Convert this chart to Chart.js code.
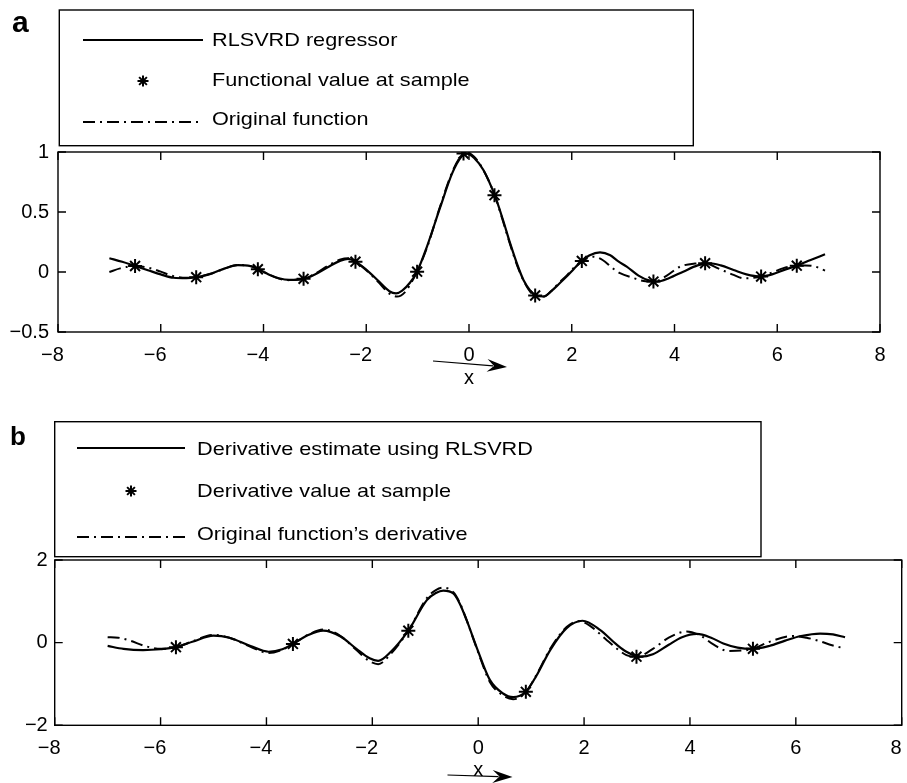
<!DOCTYPE html>
<html><head><meta charset="utf-8">
<script src="https://cdn.jsdelivr.net/npm/chart.js@4.4.1/dist/chart.umd.min.js"></script>
<style>
html,body{margin:0;padding:0;background:#fff;width:907px;height:783px;overflow:hidden}
canvas{position:absolute;left:0}
#ca{top:0}
#cb{top:395px}
</style></head><body>
<canvas id="ca" width="907" height="395"></canvas>
<canvas id="cb" width="907" height="388"></canvas>
<script>
// ---------- data ----------
const xTicks = [-8, -6, -4, -2, 0, 2, 4, 6, 8];
const yTicksA = [-0.5, 0, 0.5, 1];
const yTicksB = [-2, 0, 2];

const labelsA = ['RLSVRD regressor', 'Functional value at sample', 'Original function'];
const labelsB = ['Derivative estimate using RLSVRD', 'Derivative value at sample', 'Original function\u2019s derivative'];

// panel a: regressor (solid)
const regA_x = [-7.0,-6.75,-6.5,-6.25,-6.0,-5.75,-5.5,-5.31,-5.0,-4.75,-4.5,-4.25,-4.1,-3.9,-3.7,-3.5,-3.22,-3.0,-2.75,-2.5,-2.35,-2.21,-2.0,-1.75,-1.55,-1.42,-1.3,-1.15,-1.01,-0.82,-0.56,-0.33,-0.15,-0.04,0.1,0.28,0.5,0.65,0.8,0.95,1.06,1.2,1.3,1.45,1.6,1.75,1.9,2.05,2.2,2.35,2.55,2.75,2.9,3.07,3.3,3.5,3.66,3.9,4.17,4.45,4.69,4.9,5.15,5.4,5.67,5.9,6.15,6.38,6.65,6.93];
const regA_y = [0.115,0.085,0.05,0.015,-0.02,-0.048,-0.052,-0.043,-0.01,0.03,0.057,0.048,0.023,-0.02,-0.052,-0.066,-0.057,-0.02,0.04,0.095,0.109,0.086,0.02,-0.08,-0.16,-0.178,-0.155,-0.09,0.003,0.21,0.54,0.82,0.96,0.987,0.95,0.85,0.64,0.45,0.24,0.05,-0.066,-0.16,-0.196,-0.204,-0.16,-0.1,-0.038,0.03,0.092,0.14,0.164,0.14,0.09,0.045,-0.03,-0.07,-0.08,-0.05,0.003,0.055,0.073,0.055,0.017,-0.02,-0.038,-0.02,0.02,0.053,0.1,0.148];
// panel a: samples (stars)
const sampA_x = [-6.5,-5.31,-4.11,-3.22,-2.21,-1.01,-0.107,0.496,1.288,2.196,3.59,4.596,5.686,6.38];
const sampA_y = [0.05,-0.043,0.023,-0.057,0.086,0.003,0.987,0.64,-0.196,0.092,-0.08,0.073,-0.038,0.053];
// panel a: original function (dash-dot)
const origA_x = [-7.0,-6.79,-6.5,-6.24,-6.0,-5.75,-5.5,-5.31,-5.0,-4.75,-4.5,-4.25,-4.1,-3.9,-3.7,-3.5,-3.22,-3.0,-2.75,-2.5,-2.35,-2.21,-2.0,-1.75,-1.55,-1.4,-1.25,-1.1,-1.01,-0.82,-0.56,-0.33,-0.15,-0.04,0.1,0.28,0.5,0.65,0.8,0.95,1.06,1.2,1.3,1.45,1.6,1.75,1.9,2.05,2.2,2.42,2.6,2.8,2.94,3.2,3.4,3.6,3.85,4.11,4.4,4.6,4.85,5.15,5.34,5.5,5.69,5.9,6.12,6.38,6.55,6.7,6.93];
const origA_y = [0.0,0.03,0.05,0.036,0.003,-0.035,-0.048,-0.043,-0.012,0.03,0.058,0.05,0.023,-0.02,-0.055,-0.068,-0.057,-0.015,0.05,0.105,0.115,0.086,0.015,-0.09,-0.18,-0.205,-0.17,-0.07,0.003,0.2,0.55,0.83,0.97,0.995,0.96,0.85,0.64,0.44,0.23,0.04,-0.07,-0.17,-0.2,-0.205,-0.16,-0.09,-0.03,0.04,0.092,0.128,0.1,0.03,-0.01,-0.05,-0.075,-0.08,-0.03,0.045,0.07,0.073,0.03,-0.024,-0.052,-0.05,-0.038,-0.005,0.032,0.053,0.055,0.05,0.012];

// panel b: derivative estimate (solid)
const regB_x = [-7.0,-6.7,-6.33,-6.0,-5.71,-5.4,-5.0,-4.7,-4.3,-3.96,-3.7,-3.5,-3.2,-2.93,-2.6,-2.3,-2.05,-1.89,-1.65,-1.32,-0.97,-0.8,-0.66,-0.47,-0.35,-0.22,-0.01,0.22,0.47,0.66,0.9,1.1,1.36,1.67,1.97,2.3,2.6,2.8,3.06,3.3,3.6,3.85,4.13,4.4,4.63,4.9,5.19,5.5,5.8,6.1,6.46,6.7,6.93];
const regB_y = [-0.08,-0.15,-0.18,-0.16,-0.11,0.02,0.17,0.12,-0.08,-0.22,-0.16,-0.03,0.19,0.29,0.15,-0.15,-0.38,-0.44,-0.22,0.29,1.03,1.2,1.26,1.19,0.95,0.55,-0.18,-0.9,-1.23,-1.32,-1.19,-0.8,-0.18,0.35,0.53,0.31,-0.03,-0.22,-0.34,-0.28,-0.05,0.13,0.21,0.12,-0.02,-0.12,-0.15,-0.08,0.05,0.16,0.22,0.2,0.13];
// panel b: derivative samples (stars)
const sampB_x = [-5.71,-3.5,-1.32,0.9,2.99,5.19];
const sampB_y = [-0.11,-0.03,0.29,-1.19,-0.34,-0.15];
// panel b: original derivative (dash-dot)
const origB_x = [-7.0,-6.8,-6.58,-6.3,-6.0,-5.71,-5.4,-5.0,-4.7,-4.3,-3.96,-3.7,-3.5,-3.2,-2.93,-2.6,-2.3,-2.05,-1.89,-1.65,-1.32,-0.97,-0.8,-0.66,-0.47,-0.35,-0.22,-0.01,0.22,0.47,0.66,0.9,1.1,1.36,1.67,1.9,2.1,2.43,2.8,3.0,3.3,3.6,3.94,4.2,4.45,4.72,5.0,5.19,5.5,5.95,6.2,6.39,6.7,6.93];
const origB_y = [0.13,0.12,0.05,-0.08,-0.15,-0.11,0.03,0.19,0.12,-0.1,-0.25,-0.17,-0.03,0.2,0.32,0.16,-0.18,-0.45,-0.52,-0.27,0.29,1.08,1.27,1.33,1.22,0.97,0.55,-0.2,-0.95,-1.28,-1.37,-1.19,-0.78,-0.15,0.38,0.52,0.42,0.06,-0.3,-0.34,-0.15,0.12,0.27,0.17,-0.05,-0.2,-0.19,-0.15,0.02,0.16,0.12,0.06,-0.07,-0.14];

// ---------- helpers ----------
const FONT = "'Liberation Sans', Arial, Helvetica, sans-serif";
const MINUS = '\u2212';
const FIG = '\u2007';
const pts = (xs, ys) => xs.map((x, i) => ({ x, y: ys[i] }));
const fmtY = v => v < 0 ? MINUS + String(Math.abs(v)) : String(v);
const fmtX = v => v < 0 ? MINUS + String(Math.abs(v)) + FIG : String(v);
const DASHDOT = [12, 5, 2, 5];

function drawStar(ctx, x, y, r) {
  ctx.beginPath();
  ctx.moveTo(x - r, y); ctx.lineTo(x + r, y);
  ctx.moveTo(x, y - r); ctx.lineTo(x, y + r);
  const d = r * Math.SQRT1_2;
  ctx.moveTo(x - d, y - d); ctx.lineTo(x + d, y + d);
  ctx.moveTo(x - d, y + d); ctx.lineTo(x + d, y - d);
  ctx.stroke();
}

const framePlugin = {
  id: 'frame',
  beforeDatasetsDraw(chart) {
    const { ctx, chartArea: a, scales: { x, y } } = chart;
    ctx.save();
    ctx.strokeStyle = '#000'; ctx.lineWidth = 1.4;
    ctx.strokeRect(a.left, a.top, a.right - a.left, a.bottom - a.top);
    const L = 8;
    ctx.beginPath();
    x.ticks.forEach(t => {
      const p = x.getPixelForValue(t.value);
      ctx.moveTo(p, a.bottom); ctx.lineTo(p, a.bottom - L);
      ctx.moveTo(p, a.top); ctx.lineTo(p, a.top + L);
    });
    y.ticks.forEach(t => {
      const p = y.getPixelForValue(t.value);
      ctx.moveTo(a.left, p); ctx.lineTo(a.left + L, p);
      ctx.moveTo(a.right, p); ctx.lineTo(a.right - L, p);
    });
    ctx.stroke();
    ctx.restore();
  }
};

const legendPlugin = {
  id: 'mlegend',
  afterDraw(chart, args, o) {
    const ctx = chart.ctx;
    ctx.save();
    ctx.fillStyle = '#fff';
    ctx.fillRect(o.box[0], o.box[1], o.box[2] - o.box[0], o.box[3] - o.box[1]);
    ctx.strokeStyle = '#000'; ctx.lineWidth = 1.4;
    ctx.strokeRect(o.box[0], o.box[1], o.box[2] - o.box[0], o.box[3] - o.box[1]);
    ctx.font = o.fontSize + 'px ' + FONT;
    ctx.fillStyle = '#000';
    ctx.textBaseline = 'alphabetic';
    ctx.textAlign = 'left';
    chart.data.datasets.forEach((ds, i) => {
      const ry = o.rowY[i];
      ctx.lineWidth = 2;
      if (ds.showLine) {
        ctx.setLineDash(ds.borderDash || []);
        ctx.beginPath(); ctx.moveTo(o.sx0, ry); ctx.lineTo(o.sx1, ry); ctx.stroke();
        ctx.setLineDash([]);
      } else {
        ctx.lineWidth = 2;
        drawStar(ctx, (o.sx0 + o.sx1) / 2, ry, 5.5);
      }
      ctx.save();
      ctx.translate(o.tx, o.textBase[i]);
      ctx.scale(o.stretch, 1);
      ctx.fillText(ds.label, 0, 0);
      ctx.restore();
    });
    // panel letter
    ctx.font = 'bold ' + o.letterSize + 'px ' + FONT;
    ctx.fillText(o.letter, o.letterX, o.letterY);
    ctx.restore();
  }
};

const arrowPlugin = {
  id: 'xarrow',
  afterDraw(chart, args, o) {
    const ctx = chart.ctx;
    const x0 = chart.scales.x.getPixelForValue(0);
    const x1 = x0 + o.dx1, y1 = o.y1, x2 = x0 + o.dx2, y2 = o.y2;
    const ang = Math.atan2(y2 - y1, x2 - x1);
    const hl = 20, hw = 6.5;
    ctx.save();
    ctx.strokeStyle = '#000'; ctx.fillStyle = '#000'; ctx.lineWidth = 1.2;
    ctx.beginPath(); ctx.moveTo(x1, y1);
    ctx.lineTo(x2 - Math.cos(ang) * hl * 0.7, y2 - Math.sin(ang) * hl * 0.7);
    ctx.stroke();
    ctx.translate(x2, y2); ctx.rotate(ang);
    ctx.beginPath(); ctx.moveTo(0, 0); ctx.lineTo(-hl, -hw); ctx.lineTo(-hl * 0.65, 0); ctx.lineTo(-hl, hw); ctx.closePath(); ctx.fill();
    ctx.restore();
  }
};

function makeChart(id, p) {
  return new Chart(document.getElementById(id), {
    type: 'scatter',
    data: {
      datasets: [
        { label: p.labels[0], data: pts(p.reg[0], p.reg[1]), showLine: true, borderColor: '#000', borderWidth: 2.2, pointRadius: 0, cubicInterpolationMode: 'monotone', order: 2 },
        { label: p.labels[1], data: pts(p.samp[0], p.samp[1]), showLine: false, pointStyle: 'star', pointRadius: 7, borderColor: '#000', backgroundColor: '#000', pointBorderWidth: 2, order: 0 },
        { label: p.labels[2], data: pts(p.orig[0], p.orig[1]), showLine: true, borderColor: '#000', borderWidth: 2, borderDash: DASHDOT, pointRadius: 0, cubicInterpolationMode: 'monotone', order: 1 }
      ]
    },
    options: {
      responsive: false, animation: false, devicePixelRatio: 1,
      layout: { padding: p.pad, autoPadding: false },
      plugins: {
        legend: { display: false }, tooltip: { enabled: false },
        mlegend: p.legend, xarrow: p.arrow
      },
      scales: {
        x: {
          type: 'linear', min: -8, max: 8,
          afterBuildTicks: s => { s.ticks = xTicks.map(v => ({ value: v })); },
          afterFit: s => { s.height = p.xH; s.paddingLeft = 0; s.paddingRight = 0; },
          grid: { display: false, drawTicks: false }, border: { display: false },
          ticks: { callback: v => (v === 8 && p.shiftLast) ? '8' + FIG : fmtX(v), color: '#000', font: { family: FONT, size: 20 }, padding: p.xPad, maxRotation: 0, autoSkip: false },
          title: { display: true, text: 'x', color: '#000', font: { family: FONT, size: 20 }, padding: { top: 0, bottom: p.titlePad } }
        },
        y: {
          type: 'linear', min: p.yMin, max: p.yMax,
          afterBuildTicks: s => { s.ticks = p.yTicks.map(v => ({ value: v })); },
          afterFit: s => { s.width = p.yW; },
          grid: { display: false, drawTicks: false }, border: { display: false },
          ticks: { callback: v => fmtY(v), color: '#000', font: { family: FONT, size: 20 }, padding: p.yPad }
        }
      }
    },
    plugins: [framePlugin, legendPlugin, arrowPlugin]
  });
}

makeChart('ca', {
  labels: labelsA,
  reg: [regA_x, regA_y], samp: [sampA_x, sampA_y], orig: [origA_x, origA_y],
  yTicks: yTicksA, yMin: -0.5, yMax: 1,
  pad: { top: 152, left: 0, right: 27, bottom: 0 },
  xH: 63, yW: 58, xPad: 11, yPad: 9, titlePad: 5, shiftLast: false,
  legend: { box: [59.3, 10, 693.3, 145.7], rowY: [40, 81, 122], textBase: [45.5, 86, 125], sx0: 83, sx1: 203, tx: 212, fontSize: 19, stretch: 1.14, letter: 'a', letterSize: 30, letterX: 12, letterY: 32 },
  arrow: { dx1: -36, y1: 361, dx2: 38, y2: 367 }
});

makeChart('cb', {
  labels: labelsB,
  reg: [regB_x, regB_y], samp: [sampB_x, sampB_y], orig: [origB_x, origB_y],
  yTicks: yTicksB, yMin: -2, yMax: 2,
  pad: { top: 165, left: 0, right: 5.3, bottom: 0 },
  xH: 57.7, yW: 54.7, xPad: 10.7, yPad: 7, titlePad: 1, shiftLast: true,
  legend: { box: [54.7, 26.7, 761, 161.7], rowY: [53, 96, 142], textBase: [60, 101.7, 145], sx0: 77, sx1: 185, tx: 197, fontSize: 19, stretch: 1.14, letter: 'b', letterSize: 26, letterX: 10, letterY: 50 },
  arrow: { dx1: -30.7, y1: 380, dx2: 34.3, y2: 382 }
});
</script>
</body></html>
